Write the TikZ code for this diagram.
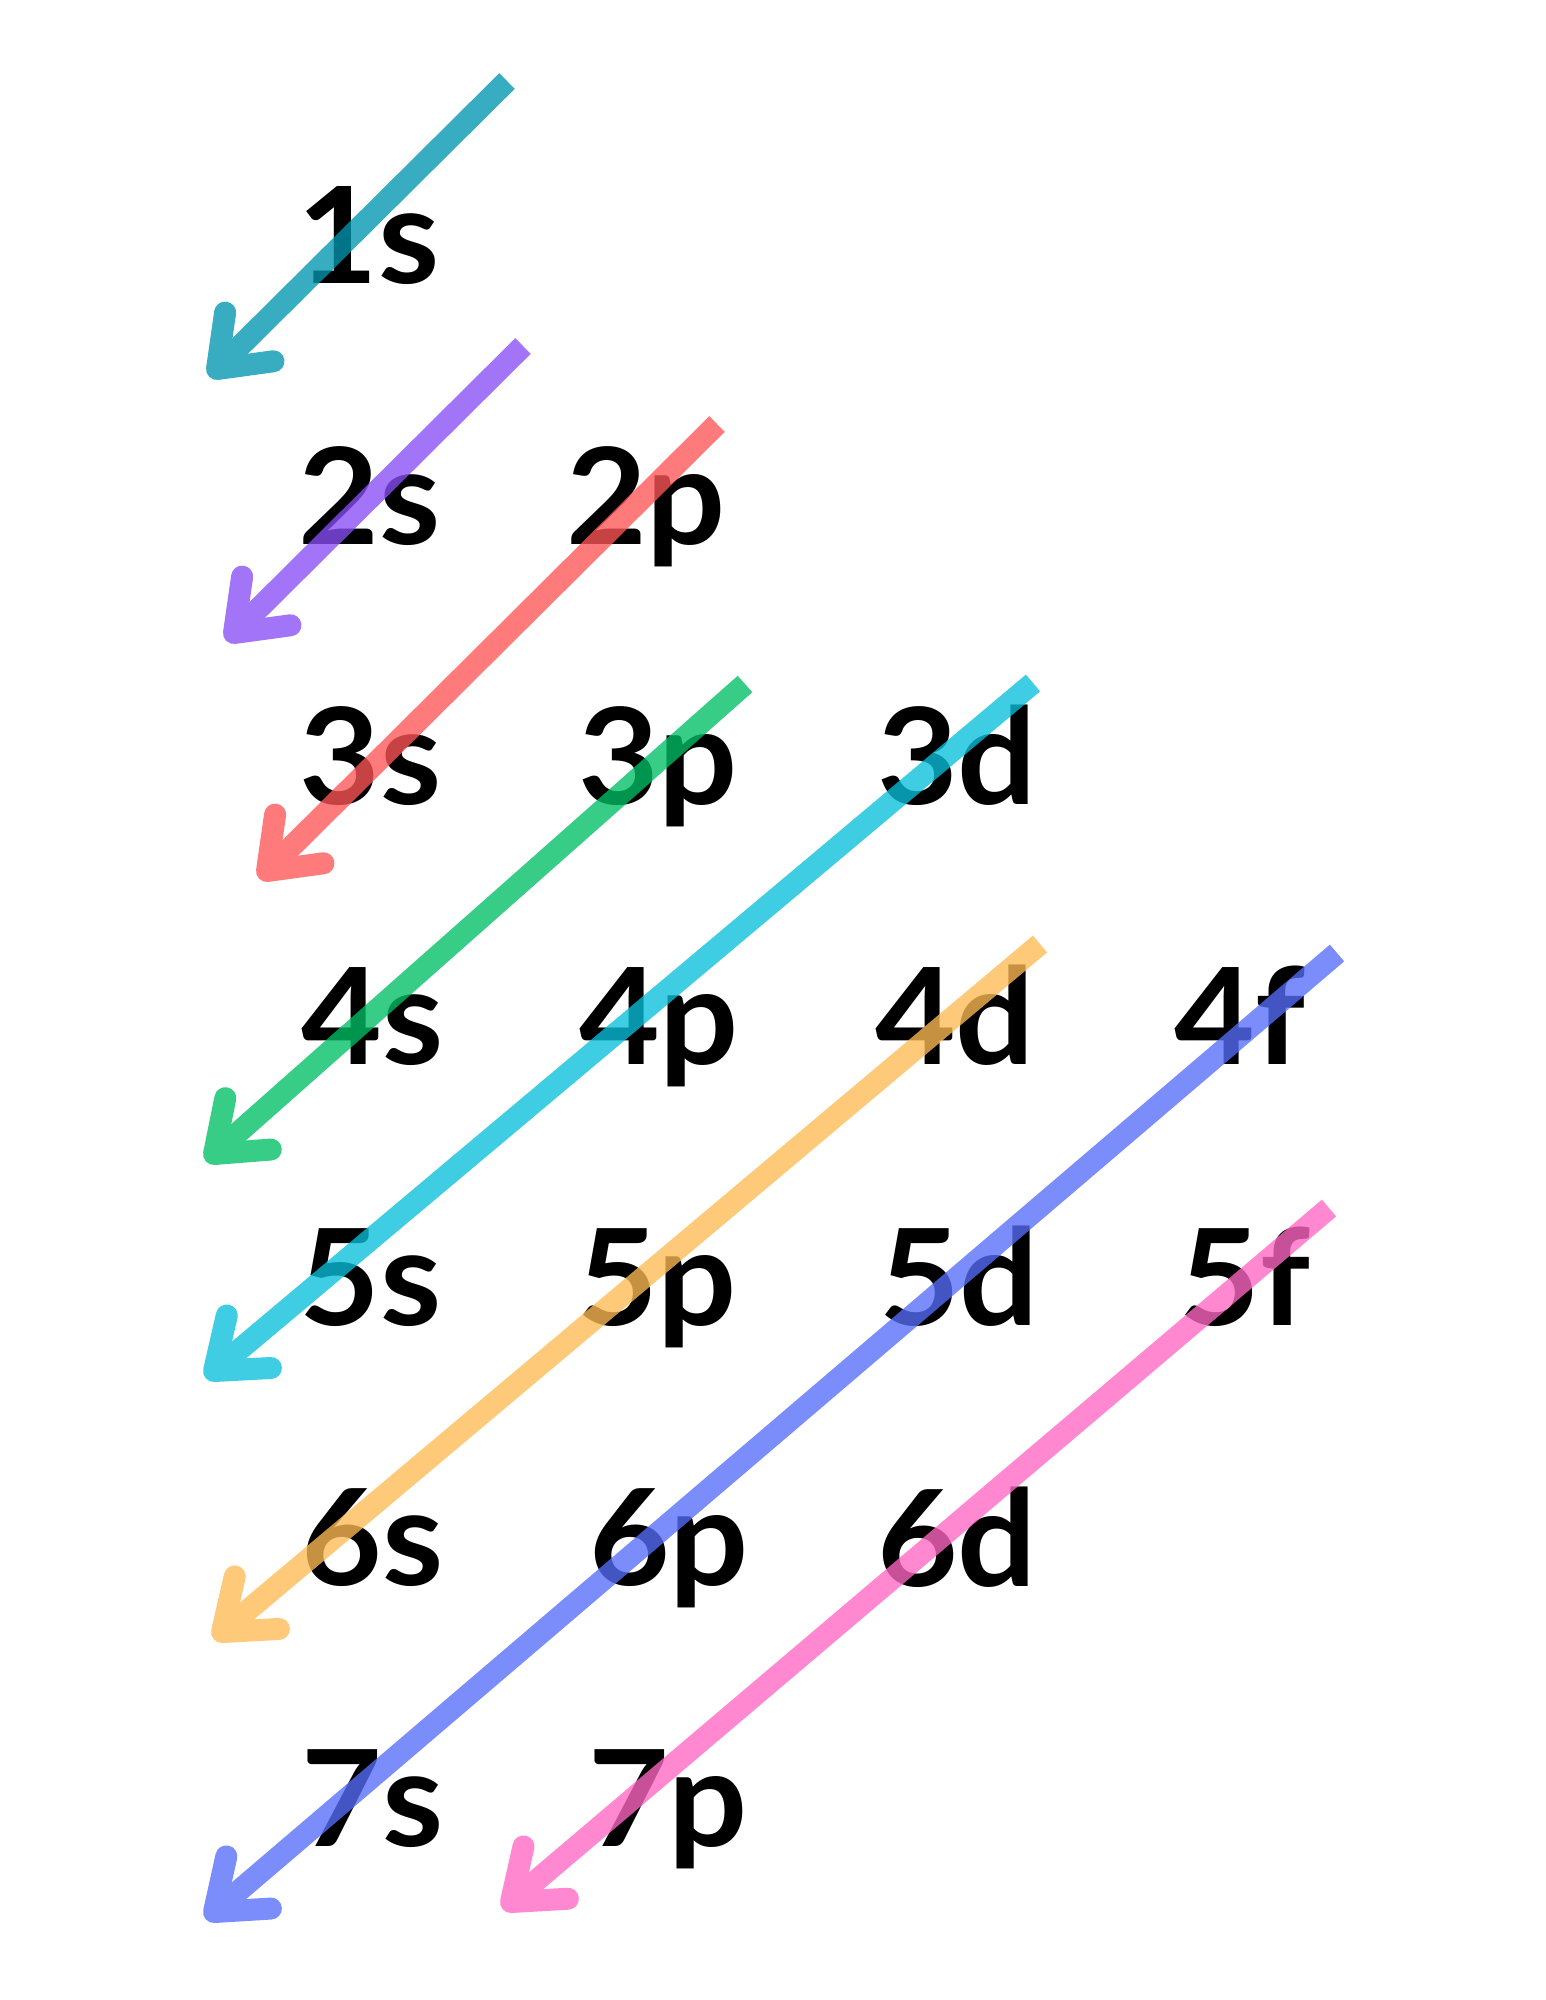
\documentclass[tikz,border=0pt]{standalone}
\usepackage{fontspec}
\setmainfont{Lato}[FakeStretch=1.04]
\usetikzlibrary{calc}
\definecolor{cTeal}{RGB}{0,150,176}
\definecolor{cPurple}{RGB}{137,78,247}
\definecolor{cRed}{RGB}{255,85,85}
\definecolor{cGreen}{RGB}{0,191,101}
\definecolor{cCyan}{RGB}{10,192,221}
\definecolor{cOrange}{RGB}{254,188,85}
\definecolor{cBlue}{RGB}{85,110,250}
\definecolor{cPink}{RGB}{255,103,195}
\newcommand{\orbArrow}[3]{%
  \begin{scope}[transparency group, opacity=0.78]
    \draw[shaft, #1] (#2) -- (#3);
    \draw[head, #1] ($(#3)!57pt!37:(#2)$) -- (#3) -- ($(#3)!57pt!-37:(#2)$);
  \end{scope}}
\begin{document}
\begin{tikzpicture}[x=1pt,y=-1pt,
  lbl/.style={anchor=base, inner sep=0pt, font=\fontsize{134}{140}\selectfont\bfseries},
  shaft/.style={line width=22pt, line cap=butt},
  head/.style={line width=22pt, line cap=round, line join=round}]
\useasboundingbox[fill=white] (0,0) rectangle (1545,2000);
% labels
\node[lbl] (l1s) at (369,283) {1s};
\node[lbl] (l2s) at (370,544) {2s};
\node[lbl] (l2p) at (646,544) {2p};
\node[lbl] (l3s) at (371,804) {3s};
\node[lbl] (l3p) at (658,804) {3p};
\node[lbl] (l3d) at (957,804) {3d};
\node[lbl] (l4s) at (373,1064) {4s};
\node[lbl] (l4p) at (659,1064) {4p};
\node[lbl] (l4d) at (955,1064) {4d};
\node[lbl] (l4f) at (1240,1064) {4f};
\node[lbl] (l5s) at (371,1325) {5s};
\node[lbl] (l5p) at (657,1325) {5p};
\node[lbl] (l5d) at (959,1325) {5d};
\node[lbl] (l5f) at (1245,1325) {5f};
\node[lbl] (l6s) at (373,1585) {6s};
\node[lbl] (l6p) at (669,1585) {6p};
\node[lbl] (l6d) at (957,1586) {6d};
\node[lbl] (l7s) at (373,1846) {7s};
\node[lbl] (l7p) at (668,1846) {7p};
% arrow end points
\coordinate (a1) at (507,81);   \coordinate (b1) at (217,369);
\coordinate (a2) at (523,346);  \coordinate (b2) at (234,633);
\coordinate (a3) at (717,424);  \coordinate (b3) at (267,871);
\coordinate (a4) at (745,684);  \coordinate (b4) at (214,1154);
\coordinate (a5) at (1033,683); \coordinate (b5) at (214,1371);
\coordinate (a6) at (1040,944); \coordinate (b6) at (222,1632);
\coordinate (a7) at (1337,953); \coordinate (b7) at (214,1912);
\coordinate (a8) at (1329,1208);\coordinate (b8) at (511,1902);
\orbArrow{cTeal}{a1}{b1}
\orbArrow{cPurple}{a2}{b2}
\orbArrow{cRed}{a3}{b3}
\orbArrow{cGreen}{a4}{b4}
\orbArrow{cCyan}{a5}{b5}
\orbArrow{cOrange}{a6}{b6}
\orbArrow{cBlue}{a7}{b7}
\orbArrow{cPink}{a8}{b8}
\end{tikzpicture}
\end{document}
